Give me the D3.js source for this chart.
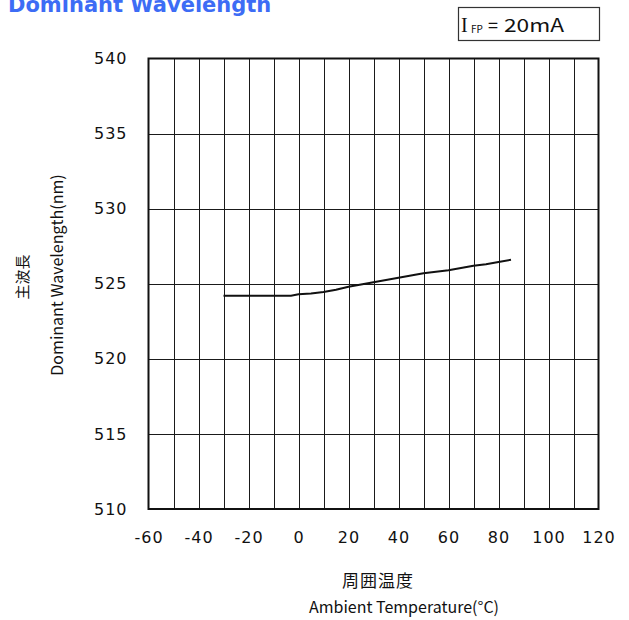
<!DOCTYPE html>
<html>
<head>
<meta charset="utf-8">
<script src="https://cdn.jsdelivr.net/npm/d3@7"></script>
<style>
  html, body { margin: 0; padding: 0; background: #fff; }
  svg { display: block; }
</style>
</head>
<body>
<svg id="chart" width="629" height="620"></svg>
<script>
// Ambient temperature (°C) vs dominant wavelength (nm) at IFP = 20 mA
const temperature = [-30, -20, -10, -3, 0, 5, 10, 15, 20, 25, 30, 35, 40, 45, 50, 55, 60, 65, 70, 75, 80, 85];
const wavelength  = [524.2, 524.2, 524.2, 524.2, 524.3, 524.35, 524.45, 524.6, 524.8, 524.95, 525.1, 525.25,
                     525.4, 525.55, 525.7, 525.8, 525.9, 526.05, 526.2, 526.3, 526.45, 526.6];

const xTicks = [-60, -40, -20, 0, 20, 40, 60, 80, 100, 120];
const xGrid  = [-50, -40, -30, -20, -10, 0, 10, 20, 30, 40, 50, 60, 70, 80, 90, 100, 110];
const yTicks = [510, 515, 520, 525, 530, 535, 540];

const svg = d3.select("#chart");
const plot = { left: 148.5, right: 598.5, top: 58.5, bottom: 509 };

const x = d3.scaleLinear().domain([-60, 120]).range([plot.left, plot.right]);
const y = d3.scaleLinear().domain([510, 540]).range([plot.bottom, plot.top]);

const sans = "'DejaVu Sans', Verdana, sans-serif";
const jp = "'Noto Sans CJK JP', 'Noto Sans', sans-serif";

// Title (partly above the page edge)
svg.append("text")
  .attr("x", 8).attr("y", 12)
  .attr("font-family", sans).attr("font-weight", "bold")
  .attr("font-size", 21).attr("fill", "#3d6cf5")
  .text("Dominant Wavelength");

// Condition box
svg.append("rect")
  .attr("x", 458.5).attr("y", 7.5).attr("width", 141).attr("height", 33)
  .attr("fill", "#fff").attr("stroke", "#333").attr("stroke-width", 1.2);
const cond = svg.append("text").attr("y", 32).attr("fill", "#111");
cond.append("tspan").attr("x", 461).attr("font-family", "'Liberation Serif', serif").attr("font-size", 20).text("I");
cond.append("tspan").attr("x", 471).attr("font-family", jp).attr("font-size", 10).attr("dy", 1).text("FP");
cond.append("tspan").attr("x", 488).attr("font-family", jp).attr("font-size", 18).attr("dy", -1).text("=");
cond.append("tspan").attr("x", 504).attr("font-family", jp).attr("font-size", 18)
  .attr("textLength", 60).attr("lengthAdjust", "spacingAndGlyphs").text("20mA");

// Grid
const grid = svg.append("g").attr("stroke", "#1a1a1a").attr("stroke-width", 1).attr("shape-rendering", "crispEdges");
grid.selectAll("line.v").data(xGrid).join("line")
  .attr("x1", d => Math.round(x(d)) + 0.5).attr("x2", d => Math.round(x(d)) + 0.5)
  .attr("y1", plot.top).attr("y2", plot.bottom);
grid.selectAll("line.h").data(yTicks.slice(1, -1)).join("line")
  .attr("y1", d => Math.round(y(d)) + 0.5).attr("y2", d => Math.round(y(d)) + 0.5)
  .attr("x1", plot.left).attr("x2", plot.right);

// Frame
svg.append("rect")
  .attr("x", plot.left).attr("y", plot.top)
  .attr("width", plot.right - plot.left).attr("height", plot.bottom - plot.top)
  .attr("fill", "none").attr("stroke", "#111").attr("stroke-width", 2);

// Tick labels (plain hyphen for negatives)
const fmt = d => String(d);
const xAxis = d3.axisBottom(x).tickValues(xTicks).tickFormat(fmt).tickSize(0).tickPadding(0);
const gx = svg.append("g").attr("transform", `translate(0,${plot.bottom + 34})`).call(xAxis);
gx.select(".domain").remove();
gx.selectAll("text").attr("font-family", sans).attr("font-size", 16).attr("fill", "#111")
  .attr("letter-spacing", 1).attr("dy", 0);

const yAxis = d3.axisLeft(y).tickValues(yTicks).tickFormat(fmt).tickSize(0).tickPadding(21);
const gy = svg.append("g").attr("transform", `translate(${plot.left},0)`).call(yAxis);
gy.select(".domain").remove();
gy.selectAll("text").attr("font-family", sans).attr("font-size", 16).attr("fill", "#111")
  .attr("letter-spacing", 1);

// Curve
const line = d3.line().x((d, i) => x(temperature[i])).y(d => y(d));
svg.append("path").datum(wavelength)
  .attr("d", line).attr("fill", "none").attr("stroke", "#111").attr("stroke-width", 2);

// Axis titles
svg.append("text").attr("x", 378).attr("y", 587).attr("text-anchor", "middle")
  .attr("font-family", jp).attr("font-size", 17).attr("letter-spacing", 1).attr("fill", "#111").text("周囲温度");
svg.append("text").attr("x", 404).attr("y", 613).attr("text-anchor", "middle")
  .attr("font-family", jp).attr("font-size", 16).attr("fill", "#111").text("Ambient Temperature(°C)");

svg.append("text").attr("transform", "translate(28,277) rotate(-90)").attr("text-anchor", "middle")
  .attr("font-family", jp).attr("font-size", 15).attr("fill", "#111").text("主波長");
svg.append("text").attr("transform", "translate(63,275) rotate(-90)").attr("text-anchor", "middle")
  .attr("font-family", jp).attr("font-size", 16).attr("fill", "#111").text("Dominant Wavelength(nm)");
</script>
</body>
</html>
